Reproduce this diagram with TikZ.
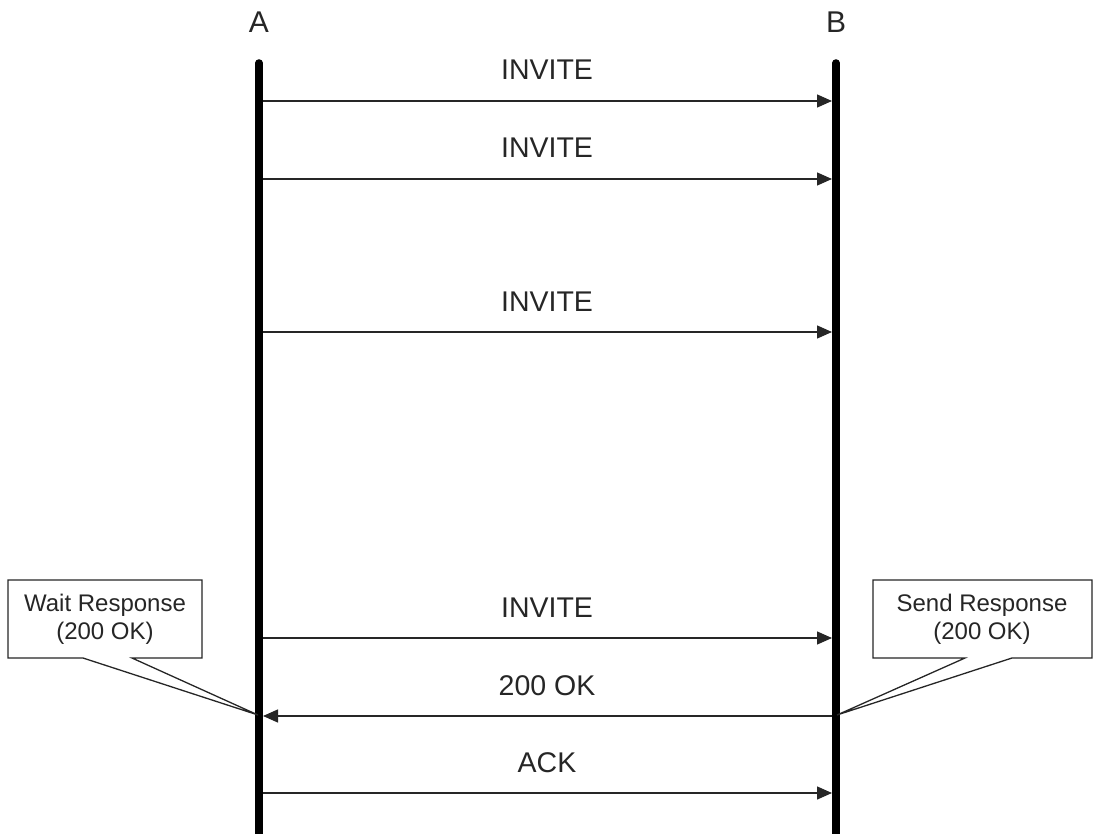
\documentclass[tikz,border=0pt]{standalone}
\usepackage{fontspec}
\setmainfont{Liberation Sans}
\usetikzlibrary{arrows.meta}
\begin{document}
\begin{tikzpicture}[x=1pt,y=-1pt,
  lifeline/.style={line width=7.5pt,line cap=round},
  msg/.style={line width=1.4pt,draw=black!85,-{Triangle[length=15pt,width=13pt]}},
  msglabel/.style={font=\fontsize{28.5}{28.5}\selectfont,anchor=base,inner sep=0pt,text=black!85},
  headlabel/.style={font=\fontsize{30}{30}\selectfont,anchor=base,inner sep=0pt,text=black!85},
  calltext/.style={font=\fontsize{24}{28}\selectfont,align=center,inner sep=0pt,text=black!85},
  callout/.style={line width=1.3pt,draw=black!85,fill=white,line join=miter}]
\useasboundingbox (0,0) rectangle (1095,834);
% headers
\node[headlabel] (A) at (259,33) {A};
\node[headlabel] (B) at (836,33) {B};
% lifelines
\coordinate (Atop) at (259,63);
\coordinate (Abot) at (259,850);
\coordinate (Btop) at (836,63);
\coordinate (Bbot) at (836,850);
\draw[lifeline] (Atop) -- (Abot);
\draw[lifeline] (Btop) -- (Bbot);
% message endpoints
\foreach \n/\y in {1/101,2/179,3/332,4/638,5/716,6/793}{
  \coordinate (a\n) at (263,\y);
  \coordinate (b\n) at (832,\y);
}
\draw[msg] (a1) -- (b1);
\draw[msg] (a2) -- (b2);
\draw[msg] (a3) -- (b3);
\draw[msg] (a4) -- (b4);
\draw[msg] (b5) -- (a5);
\draw[msg] (a6) -- (b6);
% labels
\node[msglabel] (l1) at (547,80) {INVITE};
\node[msglabel] (l2) at (547,158) {INVITE};
\node[msglabel] (l3) at (547,312) {INVITE};
\node[msglabel] (l4) at (547,617) {INVITE};
\node[msglabel] (l5) at (547,695) {200 OK};
\node[msglabel] (l6) at (547,772) {ACK};
% callouts
\coordinate (pA) at (258,715);
\coordinate (pB) at (837,715);
\draw[callout] (8,580) -- (202,580) -- (202,658) -- (132,658) -- (pA) -- (83,658) -- (8,658) -- cycle;
\draw[callout] (873,580) -- (1092,580) -- (1092,658) -- (1012,658) -- (pB) -- (965,658) -- (873,658) -- cycle;
\node[calltext] (wA) at (105,619) {Wait Response\\(200 OK)};
\node[calltext] (sB) at (982,619) {Send Response\\(200 OK)};
\end{tikzpicture}
\end{document}
